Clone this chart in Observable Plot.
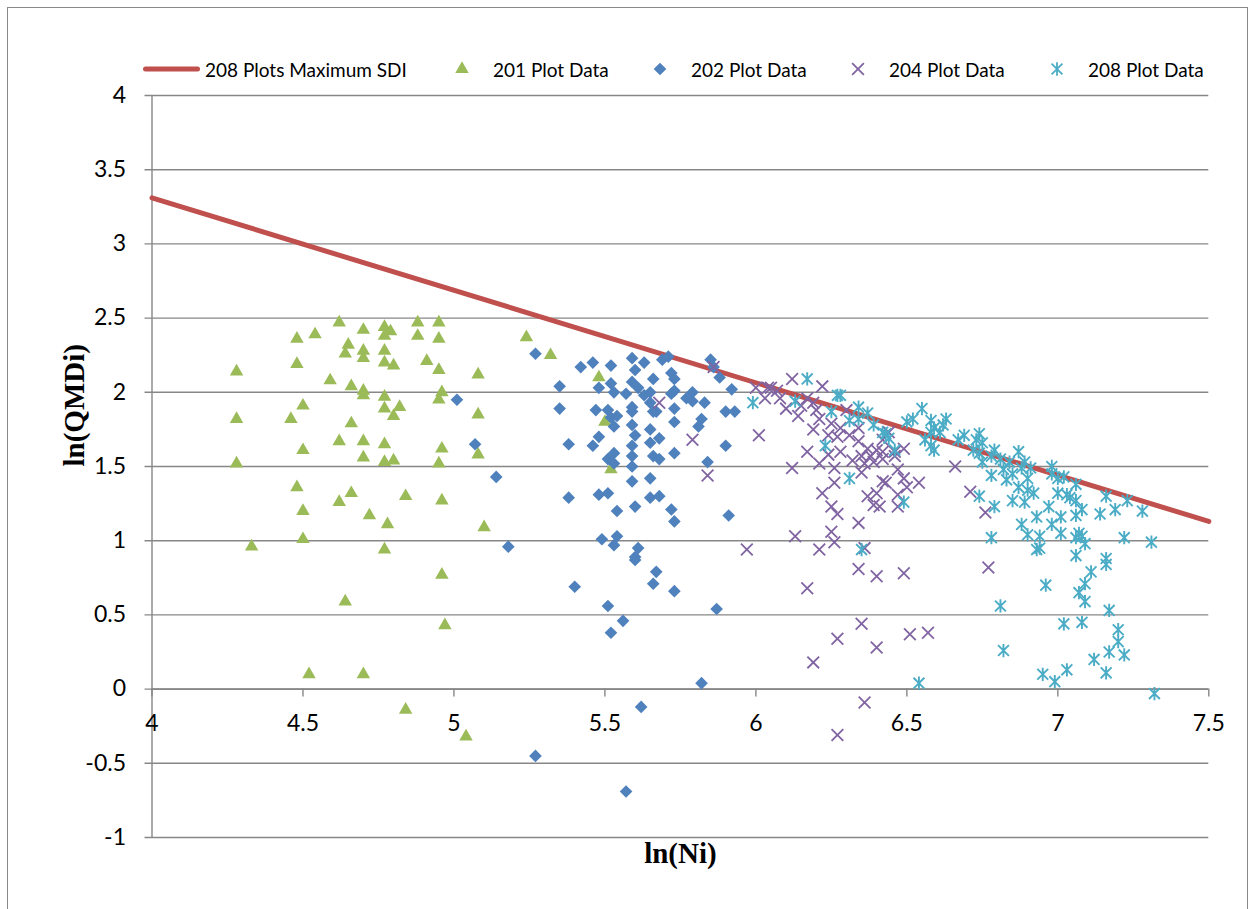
<!DOCTYPE html>
<html>
<head>
<meta charset="utf-8">
<script src="https://cdn.jsdelivr.net/npm/d3@7"></script>
<script src="https://cdn.jsdelivr.net/npm/@observablehq/plot@0.6"></script>
<style>
  html, body { margin: 0; padding: 0; background: #fff; overflow: hidden; }
  body { width: 1253px; height: 909px; position: relative; font-family: Lato, "Open Sans", sans-serif; }
  #frame { position: absolute; left: 7px; top: 7px; width: 1241px; height: 960px; border: 1.5px solid #8a8a8a; box-sizing: border-box; pointer-events: none; }
  #legend { position: absolute; left: 143px; top: 57px; height: 24px; display: flex; align-items: center; font-size: 19px; color: #000; }
  #legend .item { display: flex; align-items: center; white-space: nowrap; }
  #legend svg { display: block; }
  #chart { position: absolute; left: 0; top: 85px; }
</style>
</head>
<body>
<div id="chart"></div>
<div id="legend"></div>
<div id="frame"></div>
<script>
// Stand density: ln(quadratic mean diameter) against ln(trees per unit area)

// Axis ticks
const xTicks = [4, 4.5, 5, 5.5, 6, 6.5, 7, 7.5];
const yTicks = [-1, -0.5, 0, 0.5, 1, 1.5, 2, 2.5, 3, 3.5, 4];

// Maximum stand density index line from the 208 plots
const sdiLnN = [4, 7.5];
const sdiLnQMD = [3.31, 1.13];

// Series names
const seriesNames = ["208 Plots Maximum SDI", "201 Plot Data", "202 Plot Data", "204 Plot Data", "208 Plot Data"];

// [ln(Ni), ln(QMDi)] pairs
const plot201 = [
  [4.62,2.47],[4.48,2.36],[4.54,2.39],[4.70,2.42],[4.77,2.44],[4.79,2.41],[4.77,2.38],[4.88,2.47],
  [4.95,2.47],[4.88,2.38],[4.95,2.36],[4.65,2.32],[4.64,2.26],[4.70,2.28],[4.70,2.23],[4.77,2.28],
  [4.77,2.20],[4.80,2.18],[4.91,2.21],[4.95,2.15],[4.28,2.14],[4.48,2.19],[5.08,2.12],[4.59,2.08],
  [4.66,2.04],[4.70,2.01],[4.70,1.98],[4.77,1.97],[4.96,2.00],[4.95,1.95],[4.50,1.91],[4.28,1.82],
  [4.46,1.82],[4.77,1.89],[4.82,1.90],[4.80,1.84],[4.66,1.79],[5.08,1.85],[4.62,1.67],[4.70,1.67],
  [4.77,1.65],[4.50,1.61],[4.96,1.62],[5.08,1.58],[4.70,1.56],[4.77,1.53],[4.80,1.54],[4.95,1.52],
  [4.28,1.52],[4.48,1.36],[4.66,1.32],[4.62,1.26],[4.84,1.30],[4.96,1.27],[4.50,1.20],[4.72,1.17],
  [4.78,1.11],[4.50,1.01],[4.33,0.96],[4.77,0.94],[4.96,0.77],[4.64,0.59],[4.97,0.43],[4.52,0.10],
  [4.70,0.10],[4.84,-0.14],[5.04,-0.32],[5.24,2.37],[5.32,2.25],[5.48,2.10],[5.50,1.80],[5.52,1.48],
  [5.10,1.09]
];

const plot202 = [
  [5.27,2.26],[5.01,1.95],[5.42,2.17],[5.46,2.20],[5.52,2.18],[5.59,2.23],[5.60,2.15],[5.35,2.04],
  [5.48,2.03],[5.52,2.06],[5.53,2.00],[5.57,1.99],[5.59,2.07],[5.61,2.03],[5.35,1.89],[5.47,1.88],
  [5.51,1.88],[5.52,1.83],[5.54,1.84],[5.53,1.77],[5.59,1.90],[5.59,1.87],[5.59,1.78],[5.07,1.65],
  [5.38,1.65],[5.46,1.64],[5.48,1.70],[5.60,1.71],[5.59,1.64],[5.51,1.55],[5.53,1.59],[5.53,1.52],
  [5.59,1.57],[5.59,1.50],[5.14,1.43],[5.59,1.40],[5.38,1.29],[5.48,1.31],[5.51,1.32],[5.54,1.20],
  [5.60,1.23],[5.49,1.01],[5.54,1.03],[5.53,0.97],[5.18,0.96],[5.61,0.95],[5.60,0.89],[5.63,2.20],
  [5.69,2.22],[5.71,2.24],[5.85,2.22],[5.86,2.17],[5.88,2.10],[5.66,2.09],[5.72,2.13],[5.73,2.09],
  [5.63,1.98],[5.65,2.00],[5.73,2.01],[5.72,1.99],[5.79,2.00],[5.77,1.96],[5.79,1.94],[5.83,1.93],
  [5.92,2.02],[5.65,1.93],[5.67,1.87],[5.66,1.87],[5.73,1.89],[5.90,1.87],[5.93,1.87],[5.65,1.75],
  [5.73,1.80],[5.82,1.82],[5.81,1.77],[5.65,1.66],[5.68,1.69],[5.90,1.64],[5.66,1.57],[5.68,1.55],
  [5.73,1.59],[5.84,1.53],[5.65,1.42],[5.65,1.29],[5.68,1.30],[5.72,1.21],[5.73,1.13],[5.91,1.17],
  [5.60,0.87],[5.67,0.79],[5.66,0.71],[5.73,0.66],[5.40,0.69],[5.51,0.56],[5.56,0.46],[5.52,0.38],
  [5.87,0.54],[5.82,0.04],[5.62,-0.12],[5.27,-0.45],[5.57,-0.69]
];

const plot204 = [
  [5.86,2.17],[5.68,1.93],[5.79,1.68],[5.84,1.44],[6.01,1.71],[6.00,2.03],[6.03,1.96],[6.04,2.03],
  [5.97,0.94],[6.12,2.09],[6.05,2.03],[6.07,2.01],[6.08,1.96],[6.10,1.89],[6.14,1.84],[6.15,1.91],
  [6.17,1.96],[6.19,1.93],[6.22,2.04],[6.20,1.88],[6.21,1.82],[6.19,1.75],[6.25,1.79],[6.27,1.70],
  [6.24,1.71],[6.28,1.76],[6.30,1.88],[6.31,1.71],[6.34,1.76],[6.34,1.67],[6.37,1.62],[6.35,1.57],
  [6.38,1.57],[6.39,1.53],[6.36,1.52],[6.40,1.61],[6.42,1.60],[6.32,1.54],[6.28,1.60],[6.17,1.60],
  [6.24,1.58],[6.21,1.52],[6.26,1.49],[6.12,1.49],[6.26,1.39],[6.35,1.46],[6.43,1.39],[6.22,1.32],
  [6.25,1.23],[6.27,1.18],[6.37,1.30],[6.39,1.24],[6.40,1.32],[6.41,1.23],[6.34,1.12],[6.13,1.03],
  [6.25,1.06],[6.26,0.99],[6.21,0.94],[6.36,0.95],[6.34,0.81],[6.40,0.76],[6.49,0.78],[6.17,0.68],
  [6.77,0.82],[6.35,0.44],[6.27,0.34],[6.40,0.28],[6.51,0.37],[6.57,0.38],[6.19,0.18],[6.36,-0.09],
  [6.27,-0.31],[6.44,1.73],[6.42,1.68],[6.46,1.60],[6.49,1.62],[6.46,1.57],[6.42,1.55],[6.47,1.48],
  [6.42,1.40],[6.49,1.42],[6.50,1.36],[6.54,1.39],[6.47,1.31],[6.47,1.23],[6.66,1.50],[6.71,1.33],
  [6.76,1.19]
];

const plot208 = [
  [6.17,2.09],[5.99,1.93],[6.13,1.94],[6.27,1.98],[6.28,1.98],[6.25,1.87],[6.34,1.90],[6.34,1.82],
  [6.37,1.86],[6.31,1.81],[6.39,1.78],[6.42,1.73],[6.44,1.69],[6.46,1.61],[6.23,1.64],[6.31,1.42],
  [6.35,0.94],[6.78,1.02],[6.81,0.56],[6.82,0.26],[6.54,0.04],[6.55,1.89],[6.50,1.80],[6.52,1.82],
  [6.58,1.81],[6.63,1.82],[6.62,1.78],[6.59,1.76],[6.58,1.73],[6.61,1.73],[6.43,1.72],[6.56,1.68],
  [6.58,1.64],[6.59,1.61],[6.67,1.68],[6.69,1.71],[6.74,1.72],[6.73,1.68],[6.75,1.66],[6.72,1.61],
  [6.74,1.59],[6.79,1.61],[6.78,1.57],[6.75,1.53],[6.81,1.55],[6.87,1.60],[6.84,1.53],[6.89,1.53],
  [6.91,1.49],[6.88,1.49],[6.85,1.45],[6.82,1.48],[6.78,1.44],[6.83,1.41],[6.90,1.42],[6.87,1.36],
  [6.90,1.34],[6.92,1.32],[6.85,1.27],[6.89,1.26],[6.93,1.16],[6.88,1.11],[6.90,1.04],[6.93,0.94],
  [6.79,1.23],[6.74,1.30],[6.49,1.26],[6.98,1.50],[6.98,1.45],[7.00,1.42],[7.02,1.43],[7.06,1.38],
  [7.00,1.32],[7.03,1.31],[7.04,1.29],[7.06,1.27],[7.16,1.30],[7.23,1.27],[6.97,1.23],[7.08,1.21],
  [7.06,1.17],[7.14,1.18],[7.19,1.21],[7.28,1.20],[7.01,1.16],[6.98,1.11],[7.01,1.05],[7.07,1.05],
  [7.06,1.02],[7.08,1.03],[6.94,1.03],[7.09,0.98],[7.22,1.02],[7.31,0.99],[6.94,0.95],[7.06,0.90],
  [7.16,0.88],[7.11,0.79],[7.16,0.84],[6.96,0.70],[7.09,0.71],[7.07,0.65],[7.09,0.59],[7.17,0.53],
  [7.02,0.44],[7.08,0.45],[7.20,0.40],[7.20,0.32],[7.17,0.25],[7.22,0.23],[7.12,0.20],[7.16,0.11],
  [7.03,0.13],[6.95,0.10],[6.99,0.05],[7.32,-0.03]
];

// Colours and marker shapes
const cRed = "#C0504D", cGreen = "#9BBB59", cBlue = "#4F81BD", cPurple = "#8064A2", cCyan = "#4BACC6";
const gridGray = "#878787";

// Star marker: vertical stroke crossed by an X
const star = {
  draw(ctx, size) {
    const r = Math.sqrt(size) * 0.68;
    const d = r * 0.82;
    ctx.moveTo(0, -r); ctx.lineTo(0, r);
    ctx.moveTo(-d, -d); ctx.lineTo(d, d);
    ctx.moveTo(-d, d); ctx.lineTo(d, -d);
  }
};

const rTri = 5, rDia = 5.7, rTimes = 5.4, rStar = 5.5;

const fmt = (d) => String(d);
const sdiLine = sdiLnN.map((x, i) => ({x, y: sdiLnQMD[i]}));

const chart = Plot.plot({
  width: 1253,
  height: 824,
  marginTop: 10,
  marginBottom: 72,
  marginLeft: 151.5,
  marginRight: 44.7,
  x: {domain: [4, 7.5], axis: null},
  y: {domain: [-1, 4], axis: null},
  style: {fontFamily: "Lato, 'Open Sans', sans-serif", fontSize: "23px", color: "#000", background: "transparent", overflow: "visible"},
  marks: [
    // horizontal gridlines, extended left to form the y ticks
    Plot.ruleY(yTicks, {stroke: gridGray, strokeWidth: 1.4, insetLeft: -7}),
    // vertical axis line
    Plot.ruleX([4], {y1: -1, y2: 4, stroke: gridGray, strokeWidth: 1.4}),
    // horizontal axis crossing at zero, with downward ticks
    Plot.ruleY([0], {stroke: gridGray, strokeWidth: 1.6}),
    Plot.ruleX(xTicks, {x: (d) => d, y1: 0, y2: 0, insetBottom: -8, stroke: gridGray, strokeWidth: 1.4}),
    // tick labels
    Plot.text(yTicks, {x: 4, y: (d) => d, text: fmt, textAnchor: "end", dx: -26, fill: "#000"}),
    Plot.text(xTicks, {x: (d) => d, y: 0, text: fmt, dy: 35, fill: "#000"}),
    // axis titles
    Plot.text(["ln(QMDi)"], {frameAnchor: "left", rotate: -90, dx: -77, fontFamily: "'Liberation Serif', serif", fontWeight: "bold", fontSize: 29, fill: "#000"}),
    Plot.text(["ln(Ni)"], {frameAnchor: "bottom", dy: 25, fontFamily: "'Liberation Serif', serif", fontWeight: "bold", fontSize: 29, fill: "#000"}),
    // maximum SDI line
    Plot.line(sdiLine, {x: "x", y: "y", stroke: cRed, strokeWidth: 5}),
    // plot data
    Plot.dot(plot201, {x: (d) => d[0], y: (d) => d[1], symbol: "triangle", r: rTri, fill: cGreen, stroke: "none"}),
    Plot.dot(plot202, {x: (d) => d[0], y: (d) => d[1], symbol: "diamond2", r: rDia, fill: cBlue, stroke: "none"}),
    Plot.dot(plot204, {x: (d) => d[0], y: (d) => d[1], symbol: "times", r: rTimes, fill: "none", stroke: cPurple, strokeWidth: 1.8}),
    Plot.dot(plot208, {x: (d) => d[0], y: (d) => d[1], symbol: star, r: rStar, fill: "none", stroke: cCyan, strokeWidth: 1.9})
  ]
});
document.getElementById("chart").appendChild(chart);

// Legend row
const legend = d3.select("#legend");
const items = [
  {w: 312, sym: "line", color: cRed},
  {w: 198, sym: d3.symbolTriangle, color: cGreen, fill: true, size: Math.PI * rTri * rTri},
  {w: 198, sym: d3.symbolDiamond2, color: cBlue, fill: true, size: Math.PI * rDia * rDia},
  {w: 199, sym: d3.symbolTimes, color: cPurple, fill: false, size: Math.PI * rTimes * rTimes},
  {w: 170, sym: star, color: cCyan, fill: false, size: Math.PI * rStar * rStar}
];
items.forEach((it, i) => {
  const div = legend.append("div").attr("class", "item").style("width", it.w + "px");
  if (it.sym === "line") {
    const s = div.append("svg").attr("width", 57).attr("height", 14);
    s.append("line").attr("x1", 2.5).attr("x2", 54.5).attr("y1", 7).attr("y2", 7)
      .attr("stroke", it.color).attr("stroke-width", 5).attr("stroke-linecap", "round");
    div.append("span").style("margin-left", "5px").text(seriesNames[i]);
  } else {
    const s = div.append("svg").attr("width", 14).attr("height", 16);
    s.append("path").attr("transform", "translate(7,8)")
      .attr("d", d3.symbol(it.sym, it.size)())
      .attr("fill", it.fill ? it.color : "none")
      .attr("stroke", it.fill ? "none" : it.color)
      .attr("stroke-width", it.fill ? 0 : 1.8);
    div.append("span").style("margin-left", "24px").text(seriesNames[i]);
  }
});
</script>
</body>
</html>
